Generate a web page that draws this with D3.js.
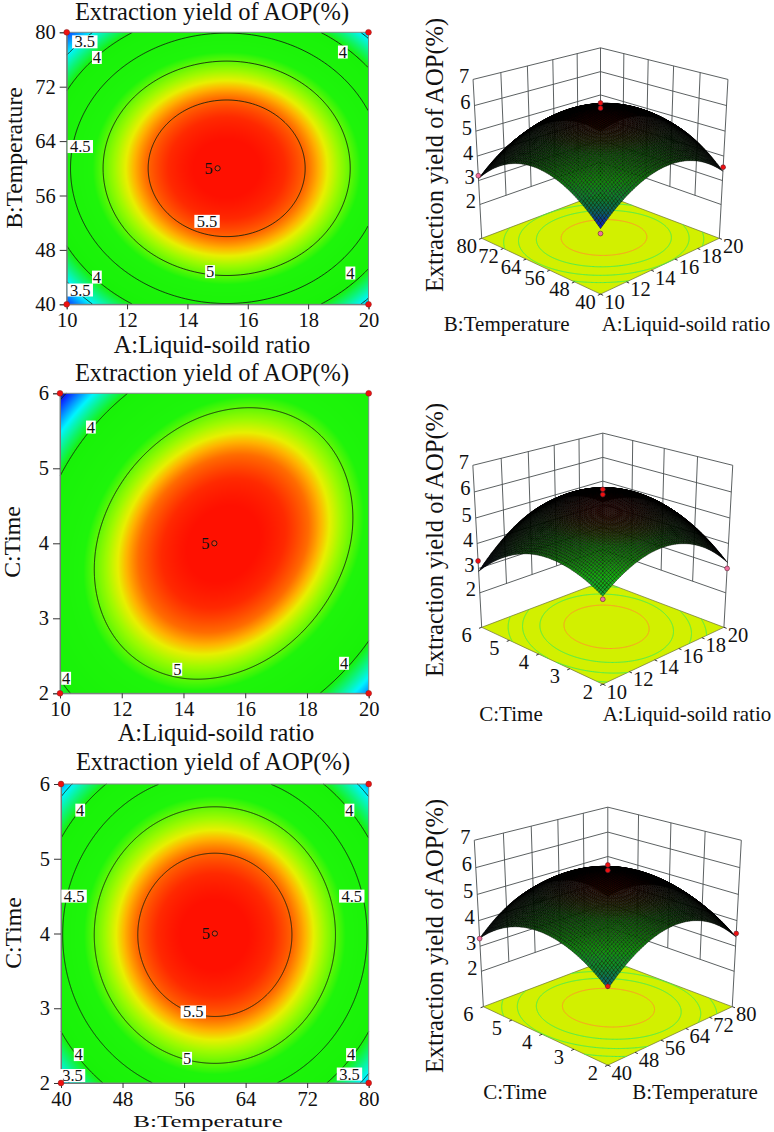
<!DOCTYPE html>
<html lang="en">
<head>
    <meta charset="UTF-8">
    <title>Extraction yield of AOP</title>
    <script src="https://d3js.org/d3.v7.min.js"></script>
    <style>
        body { margin: 0; background: #fff; }
        svg { display: block; }
        text { font-family: "Liberation Serif", serif; fill: #111; }
        .axis path { stroke: #777; }
        .axis line { stroke: #333; }
        .axis text { font-size: 20.5px; font-family: "Liberation Serif", serif; }
    </style>
</head>
<body>
    <svg id="chart" width="774" height="1132"></svg>
    <script>
        // Axis ticks
        const ticksA = [10, 12, 14, 16, 18, 20];
        const ticksB = [40, 48, 56, 64, 72, 80];
        const ticksC = [2, 3, 4, 5, 6];
        const ticksZ = [2, 3, 4, 5, 6, 7];

        const titleText = 'Extraction yield of AOP(%)';
        const labelA = 'A:Liquid-soild ratio';
        const labelB = 'B:Temperature';
        const labelC = 'C:Time';

        // Yield read at the tick crossings, one row per tick of the second factor
        const yieldAB = [
            [3.08, 3.94, 4.40, 4.46, 4.12, 3.38],
            [3.95, 4.81, 5.27, 5.33, 4.99, 4.25],
            [4.38, 5.24, 5.70, 5.76, 5.42, 4.68],
            [4.38, 5.24, 5.70, 5.76, 5.42, 4.68],
            [3.95, 4.81, 5.27, 5.33, 4.99, 4.25],
            [3.08, 3.94, 4.40, 4.46, 4.12, 3.38]
        ];
        const yieldAC = [
            [3.86, 4.53, 4.81, 4.68, 4.16, 3.24],
            [4.41, 5.18, 5.55, 5.52, 5.08, 4.25],
            [4.44, 5.30, 5.76, 5.82, 5.48, 4.74],
            [3.92, 4.88, 5.43, 5.58, 5.33, 4.68],
            [2.88, 3.92, 4.57, 4.81, 4.66, 4.10]
        ];
        const yieldBC = [
            [3.36, 4.23, 4.67, 4.67, 4.23, 3.36],
            [4.20, 5.07, 5.51, 5.51, 5.07, 4.20],
            [4.47, 5.35, 5.79, 5.79, 5.35, 4.47],
            [4.18, 5.05, 5.49, 5.49, 5.05, 4.18],
            [3.31, 4.19, 4.62, 4.62, 4.19, 3.31]
        ];

        // Contour levels shown on each flat plot
        const levelsAB = [3.5, 4, 4.5, 5, 5.5];
        const levelsAC = [3, 4, 5];
        const levelsBC = [3.5, 4, 4.5, 5, 5.5];
        const floorLevels = [4, 4.5, 5, 5.5];

        // Contour labels: first factor, second factor, text
        const notesAB = [[10.6, 78.6, '3.5'], [11, 76.3, '4'], [10.45, 63.2, '4.5'], [14.65, 52.2, '5.5'],
            [14.75, 44.8, '5'], [11, 44, '4'], [10.45, 42.1, '3.5'], [19.15, 77.1, '4'], [19.4, 44.6, '4']];
        const notesAC = [[11, 5.55, '4'], [13.8, 2.32, '5'], [10.2, 2.2, '4'], [19.2, 2.4, '4']];
        const notesBC = [[42.5, 5.65, '4'], [41.7, 4.5, '4.5'], [57.2, 2.95, '5.5'], [56.4, 2.33, '5'],
            [42.3, 2.38, '4'], [41.5, 2.1, '3.5'], [77.5, 5.65, '4'], [77.8, 4.5, '4.5'], [77.7, 2.38, '4'], [77.5, 2.12, '3.5']];

        // Design points on the flat plots
        const centerAB = [15, 60];
        const centerAC = [15, 4];
        const centerBC = [60, 4];
        const centerCount = '5';

        // Design points on the surfaces: first factor, second factor, yield
        const pointsAB = [[15, 60, 6.1], [15, 60, 5.9], [10, 80, 3.2], [20, 40, 3.55], [10, 40, 2.9]];
        const pointsAC = [[15, 4, 6.1], [15, 4, 5.9], [10, 6, 3.3], [20, 2, 3.0], [10, 2, 3.75]];
        const pointsBC = [[60, 4, 6.1], [60, 4, 5.9], [40, 6, 3.3], [80, 2, 3.5], [40, 2, 3.45]];
        const pointsBelow = [[false, false, true, false, true], [false, false, false, true, true], [false, false, true, false, false]];

        const svg = d3.select('#chart');

        const heat = d3.scaleLinear()
            .domain([2.9, 3.05, 3.5, 4.0, 4.85, 5.15, 5.28, 5.37, 5.48, 5.65, 5.78])
            .range(['#0a14b4', '#0a28ff', '#00f5ff', '#18f208', '#1ef50a', '#a0fa00', '#e8f000', '#ffb400', '#ff6c00', '#ff2a00', '#ff1000'])
            .clamp(true);

        // The mesh colours run bluer and duller than the flat plots
        const skin = d3.scaleLinear()
            .domain([3.1, 3.3, 3.5, 3.9, 4.3, 5.0, 5.5, 5.8])
            .range(['#0818e0', '#0a40b0', '#0a7080', '#12b040', '#18e010', '#20c010', '#804000', '#ff1400'])
            .clamp(true);

        // Catmull-Rom read of a value table, with quadratic ghost cells outside it
        function tableValue(grid, u, v) {
            const rows = grid.length, cols = grid[0].length;
            const cell = (i, j) => {
                if (j < 0) return 3 * cell(i, 0) - 3 * cell(i, 1) + cell(i, 2);
                if (j >= rows) return 3 * cell(i, rows - 1) - 3 * cell(i, rows - 2) + cell(i, rows - 3);
                if (i < 0) return 3 * grid[j][0] - 3 * grid[j][1] + grid[j][2];
                if (i >= cols) return 3 * grid[j][cols - 1] - 3 * grid[j][cols - 2] + grid[j][cols - 3];
                return grid[j][i];
            };
            const cr = (p0, p1, p2, p3, t) => p1 + 0.5 * t * (p2 - p0 + t * (2 * p0 - 5 * p1 + 4 * p2 - p3 + t * (3 * (p1 - p2) + p3 - p0)));
            const iu = Math.min(Math.floor(u), cols - 2), iv = Math.min(Math.floor(v), rows - 2);
            const tu = u - iu, tv = v - iv;
            const row = j => cr(cell(iu - 1, j), cell(iu, j), cell(iu + 1, j), cell(iu + 2, j), tu);
            return cr(row(iv - 1), row(iv), row(iv + 1), row(iv + 2), tv);
        }

        function resample(grid, nx, ny) {
            const out = new Array(nx * ny);
            const uMax = grid[0].length - 1, vMax = grid.length - 1;
            for (let j = 0; j < ny; j++) {
                for (let i = 0; i < nx; i++) {
                    out[j * nx + i] = tableValue(grid, (i + 0.5) / nx * uMax, (j + 0.5) / ny * vMax);
                }
            }
            return out;
        }

        // Contour rings cut open where they only run along the plot border
        function contourLines(values, nx, ny, level) {
            const shape = d3.contours().size([nx, ny]).thresholds([level])(values)[0];
            const onSameEdge = (p, q) => (p[0] === q[0] && (p[0] <= 0 || p[0] >= nx)) || (p[1] === q[1] && (p[1] <= 0 || p[1] >= ny));
            const lines = [];
            shape.coordinates.forEach(poly => poly.forEach(ring => {
                let current = [];
                const pieces = [];
                ring.forEach((p, k) => {
                    if (k > 0 && onSameEdge(ring[k - 1], p)) {
                        if (current.length > 1) pieces.push(current);
                        current = [];
                    }
                    current.push(p);
                });
                if (current.length > 1) pieces.push(current);
                if (pieces.length > 1 && !onSameEdge(ring[0], ring[1]) && !onSameEdge(ring[ring.length - 2], ring[ring.length - 1])) {
                    const last = pieces.pop();
                    pieces[0] = last.concat(pieces[0]);
                }
                pieces.forEach(l => lines.push(l));
            }));
            return lines;
        }

        function drawContour(o) {
            const x = d3.scaleLinear().domain(d3.extent(o.xTicks)).range([o.left, o.right]);
            const y = d3.scaleLinear().domain(d3.extent(o.yTicks)).range([o.bottom, o.top]);
            const w = Math.round(o.right - o.left), h = Math.round(o.bottom - o.top);
            const values = resample(o.table, w, h);

            // Heat picture goes through a canvas, one cell per pixel
            const canvas = document.createElement('canvas');
            canvas.width = w;
            canvas.height = h;
            const ctx = canvas.getContext('2d');
            for (let j = 0; j < h; j++) {
                for (let i = 0; i < w; i++) {
                    ctx.fillStyle = heat(values[j * w + i]);
                    ctx.fillRect(i, h - 1 - j, 1, 1);
                }
            }
            svg.append('image')
                .attr('x', o.left).attr('y', o.top)
                .attr('width', o.right - o.left).attr('height', o.bottom - o.top)
                .attr('preserveAspectRatio', 'none')
                .attr('href', canvas.toDataURL());

            const fx = d3.scaleLinear().domain([0, w]).range([o.left, o.right]);
            const fy = d3.scaleLinear().domain([0, h]).range([o.bottom, o.top]);
            const line = d3.line().x(p => fx(p[0])).y(p => fy(p[1]));
            o.levels.forEach(level => {
                svg.append('g').selectAll('path').data(contourLines(values, w, h, level)).join('path')
                    .attr('d', line).attr('fill', 'none').attr('stroke', '#14200e').attr('stroke-width', 0.9);
            });

            svg.append('rect')
                .attr('x', o.left).attr('y', o.top)
                .attr('width', o.right - o.left).attr('height', o.bottom - o.top)
                .attr('fill', 'none').attr('stroke', '#7d8a88').attr('stroke-width', 1);

            svg.append('g').attr('class', 'axis').attr('transform', `translate(0,${o.bottom})`)
                .call(d3.axisBottom(x).tickValues(o.xTicks).tickSize(5).tickPadding(3).tickFormat(d3.format('d')));
            svg.append('g').attr('class', 'axis').attr('transform', `translate(${o.left},0)`)
                .call(d3.axisLeft(y).tickValues(o.yTicks).tickSize(7).tickPadding(4).tickFormat(d3.format('d')));

            // Contour value labels
            const notes = svg.append('g').selectAll('g').data(o.notes).join('g')
                .attr('transform', d => `translate(${x(d[0])},${y(d[1])})`);
            notes.append('rect')
                .attr('x', d => -d[2].length * 3.9 - 1).attr('y', -6.5)
                .attr('width', d => d[2].length * 7.8 + 2).attr('height', 13).attr('fill', '#fff');
            notes.append('text').attr('text-anchor', 'middle').attr('dy', 5.5)
                .style('font-size', '16.5px').text(d => d[2]);

            // Red corner points and the centre point
            const corners = d3.cross(d3.extent(o.xTicks), d3.extent(o.yTicks));
            svg.append('g').selectAll('circle').data(corners).join('circle')
                .attr('cx', d => x(d[0])).attr('cy', d => y(d[1])).attr('r', 2.9)
                .attr('fill', '#f01010').attr('stroke', '#802020').attr('stroke-width', 0.5);
            svg.append('circle').attr('cx', x(o.center[0])).attr('cy', y(o.center[1])).attr('r', 2.6)
                .attr('fill', '#f03010').attr('stroke', '#111').attr('stroke-width', 0.9);
            svg.append('text').attr('x', x(o.center[0]) - 9).attr('y', y(o.center[1]) + 5.5)
                .attr('text-anchor', 'middle').style('font-size', '16.5px').text(centerCount);

            // Titles
            svg.append('text').attr('x', o.titleX).attr('y', o.titleY).attr('text-anchor', 'middle')
                .style('font-size', '24.5px').text(titleText);
            svg.append('text').attr('transform', o.xLabelTransform).attr('text-anchor', 'middle')
                .style('font-size', o.xLabelSize).text(o.xLabel);
            svg.append('text').attr('transform', `translate(${o.yLabelX},${o.yLabelY}) rotate(-90)`).attr('text-anchor', 'middle')
                .style('font-size', '23.7px').text(o.yLabel);
        }

        function drawSurface(o) {
            const elev = 24.8 * Math.PI / 180, cosE = Math.cos(elev), sinE = Math.sin(elev);
            const camera = 6, tall = 0.971;
            const height = d3.scaleLinear().domain([0.55, 7]).range([0, tall]);
            const fa = d3.scaleLinear().domain(d3.extent(o.aTicks)).range([0, 1]);
            const fb = d3.scaleLinear().domain(d3.extent(o.bTicks)).range([0, 1]);

            // a, b on the floor run 0..1, h is the height above the floor
            function project(a, b, h) {
                const across = (a - b) * Math.SQRT1_2;
                const fwd = (1 - a - b) * Math.SQRT1_2;
                const up = h * cosE - fwd * sinE;
                const near = h * sinE + fwd * cosE;
                const s = o.scale * camera / (camera - near);
                return { x: o.cx + across * s, y: o.cy - up * s, near };
            }
            const poly = pts => 'M' + pts.map(p => `${p.x},${p.y}`).join('L') + 'Z';
            const seg = (p, q) => `M${p.x},${p.y}L${q.x},${q.y}`;

            // Two back walls
            const wall = [];
            ticksZ.forEach(z => {
                wall.push(seg(project(0, 1, height(z)), project(1, 1, height(z))));
                wall.push(seg(project(1, 1, height(z)), project(1, 0, height(z))));
            });
            o.aTicks.slice(1, -1).forEach(t => wall.push(seg(project(fa(t), 1, height(2)), project(fa(t), 1, height(7)))));
            o.bTicks.slice(1, -1).forEach(t => wall.push(seg(project(1, fb(t), height(2)), project(1, fb(t), height(7)))));
            [[0, 1], [1, 1], [1, 0]].forEach(c => wall.push(seg(project(c[0], c[1], 0), project(c[0], c[1], tall))));
            svg.append('path').attr('d', wall.join('')).attr('fill', 'none').attr('stroke', '#4a4f50').attr('stroke-width', 0.9);

            // Floor with its contours
            svg.append('path').attr('d', poly([project(0, 0, 0), project(1, 0, 0), project(1, 1, 0), project(0, 1, 0)]))
                .attr('fill', '#d2f000').attr('stroke', '#6a7030').attr('stroke-width', 0.7);
            const nf = 200;
            const floorValues = resample(o.table, nf, nf);
            const floorLine = d3.line().x(p => project(p[0] / nf, p[1] / nf, 0).x).y(p => project(p[0] / nf, p[1] / nf, 0).y);
            floorLevels.forEach(level => {
                svg.append('g').selectAll('path').data(contourLines(floorValues, nf, nf, level)).join('path')
                    .attr('d', floorLine).attr('fill', 'none').attr('stroke-width', 1)
                    .attr('stroke', level === 5.5 ? '#ff9a28' : '#48ee50');
            });

            // Floor ticks
            const marks = [];
            o.aTicks.forEach(t => marks.push(seg(project(fa(t), 0, 0), project(fa(t), -0.02, 0))));
            o.bTicks.forEach(t => marks.push(seg(project(0, fb(t), 0), project(-0.02, fb(t), 0))));
            svg.append('path').attr('d', marks.join('')).attr('fill', 'none').attr('stroke', '#333').attr('stroke-width', 1);

            // Surface as small quads, back to front. Quads seen at a flat angle close up and go dark
            const n = 72;
            const verts = d3.range(n + 1).map(j => d3.range(n + 1).map(i => {
                const z = tableValue(o.table, i / n * (o.aTicks.length - 1), j / n * (o.bTicks.length - 1));
                return { z, p: project(i / n, j / n, height(z)) };
            }));
            const quads = [];
            for (let j = 0; j < n; j++) {
                for (let i = 0; i < n; i++) {
                    const c = [verts[j][i], verts[j][i + 1], verts[j + 1][i + 1], verts[j + 1][i]];
                    const area = Math.abs(d3.polygonArea(c.map(v => [v.p.x, v.p.y])));
                    quads.push({ pts: c.map(v => v.p), z: d3.mean(c, v => v.z), near: d3.mean(c, v => v.p.near), area });
                }
            }
            const maxArea = d3.max(quads, d => d.area);
            const shade = d => d3.interpolateRgb('#000', skin(d.z))(0.03 + 0.9 * Math.pow(d.area / maxArea, 1.8));
            quads.sort((a, b) => a.near - b.near);
            svg.append('g').selectAll('path').data(quads).join('path')
                .attr('d', d => poly(d.pts))
                .attr('fill', shade)
                .attr('stroke', '#000')
                .attr('stroke-opacity', 0.75)
                .attr('stroke-width', 0.5);

            // Design points
            svg.append('g').selectAll('circle').data(o.points).join('circle')
                .attr('cx', d => project(fa(d[0]), fb(d[1]), height(d[2])).x)
                .attr('cy', d => project(fa(d[0]), fb(d[1]), height(d[2])).y)
                .attr('r', 2.4)
                .attr('fill', (d, i) => o.below[i] ? '#f070a0' : '#f01010')
                .attr('stroke', '#602030').attr('stroke-width', 0.6);

            // Tick labels
            const tickText = (data, pos, dx, dy) => svg.append('g').selectAll('text').data(data).join('text')
                .attr('x', d => pos(d).x + dx).attr('y', d => pos(d).y + dy + 6.5)
                .attr('text-anchor', 'middle').style('font-size', '20.5px').text(d => d);
            tickText(o.aTicks, t => project(fa(t), 0, 0), 14, 8);
            tickText(o.bTicks, t => project(0, fb(t), 0), -15, 8);
            tickText(ticksZ, z => project(0, 1, height(z)), -9, -3);

            svg.append('text').attr('transform', `translate(${o.zLabelX},${o.zLabelY}) rotate(-90)`).attr('text-anchor', 'middle')
                .style('font-size', '24.5px').text(titleText);
            svg.append('text').attr('x', o.bLabelX).attr('y', o.labelY).attr('text-anchor', 'middle')
                .style('font-size', '21px').text(o.bLabel);
            svg.append('text').attr('x', o.aLabelX).attr('y', o.labelY).attr('text-anchor', 'middle')
                .style('font-size', '21px').text(o.aLabel);
        }

        drawContour({
            xTicks: ticksA, yTicks: ticksB, table: yieldAB, levels: levelsAB, notes: notesAB, center: centerAB,
            left: 66.7, right: 368.5, top: 32.3, bottom: 304.3,
            titleX: 212, titleY: 19.5, xLabel: labelA, xLabelSize: '24.5px', xLabelTransform: 'translate(212,353)',
            yLabel: labelB, yLabelX: 22, yLabelY: 158
        });
        drawContour({
            xTicks: ticksA, yTicks: ticksC, table: yieldAC, levels: levelsAC, notes: notesAC, center: centerAC,
            left: 60, right: 368.7, top: 393.3, bottom: 693.3,
            titleX: 212, titleY: 381, xLabel: labelA, xLabelSize: '24.5px', xLabelTransform: 'translate(216,741)',
            yLabel: labelC, yLabelX: 20, yLabelY: 542
        });
        drawContour({
            xTicks: ticksB, yTicks: ticksC, table: yieldBC, levels: levelsBC, notes: notesBC, center: centerBC,
            left: 61, right: 368.7, top: 784, bottom: 1083,
            titleX: 213, titleY: 770, xLabel: labelB, xLabelSize: '21px', xLabelTransform: 'translate(208,1127) scale(1.19,0.8)',
            yLabel: labelC, yLabelX: 21, yLabelY: 933
        });

        drawSurface({
            aTicks: ticksA, bTicks: ticksB, table: yieldAB, points: pointsAB, below: pointsBelow[0],
            cx: 600.5, cy: 238.3, scale: 168,
            zLabelX: 443, zLabelY: 155, aLabel: labelA, bLabel: labelB, aLabelX: 686, bLabelX: 506.7, labelY: 331
        });
        drawSurface({
            aTicks: ticksA, bTicks: ticksC, table: yieldAC, points: pointsAC, below: pointsBelow[1],
            cx: 602.8, cy: 627.3, scale: 171.3,
            zLabelX: 443, zLabelY: 540, aLabel: labelA, bLabel: labelC, aLabelX: 687, bLabelX: 511, labelY: 721
        });
        drawSurface({
            aTicks: ticksB, bTicks: ticksC, table: yieldBC, points: pointsBC, below: pointsBelow[2],
            cx: 607.8, cy: 1006.7, scale: 176,
            zLabelX: 443, zLabelY: 936, aLabel: labelB, bLabel: labelC, aLabelX: 695, bLabelX: 515, labelY: 1099
        });
    </script>
</body>
</html>
